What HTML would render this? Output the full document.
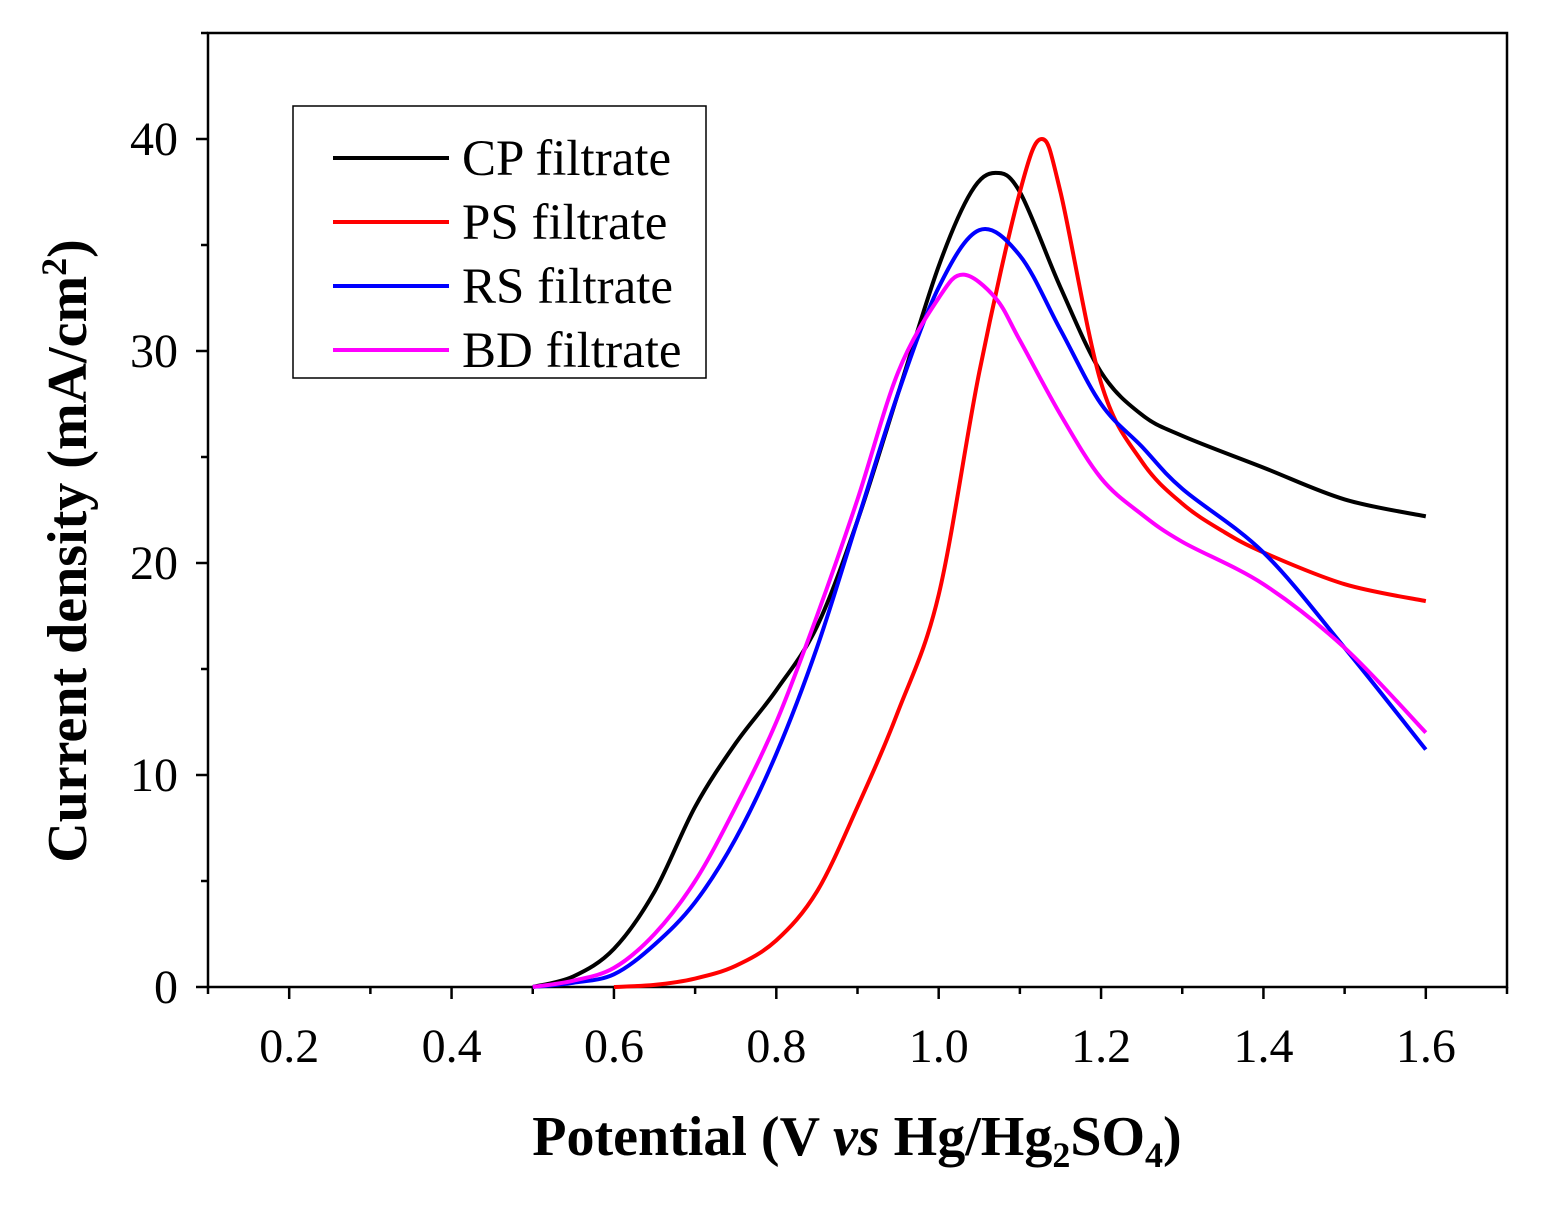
<!DOCTYPE html>
<html><head><meta charset="utf-8"><style>
body{margin:0;background:#fff}
svg text{font-family:"Liberation Serif",serif}
</style></head><body>
<svg id="c" width="1546" height="1203" xmlns="http://www.w3.org/2000/svg"></svg>
<script>
const xTicks=[0.2,0.4,0.6,0.8,1.0,1.2,1.4,1.6];
const yTicks=[0,10,20,30,40];
const seriesNames=["CP filtrate","PS filtrate","RS filtrate","BD filtrate"];
const seriesColors=["#000000","#ff0000","#0000ff","#ff00ff"];
const cpX=[0.5,0.55,0.6,0.65,0.7,0.75,0.8,0.85,0.9,0.95,1.0,1.04,1.07,1.1,1.15,1.2,1.25,1.3,1.4,1.5,1.6];
const cpY=[0,0.5,1.8,4.5,8.5,11.5,14,17,22,28,34,37.5,38.4,37.5,33,29,27,26,24.5,23,22.2];
const psX=[0.6,0.65,0.7,0.75,0.8,0.85,0.9,0.95,1.0,1.05,1.1,1.127,1.15,1.2,1.25,1.3,1.35,1.4,1.5,1.6];
const psY=[0,0.1,0.4,1,2.2,4.5,8.5,13,18.5,29,37.5,40,37.5,28.5,24.8,22.8,21.5,20.5,19,18.2];
const rsX=[0.5,0.55,0.6,0.65,0.7,0.75,0.8,0.85,0.9,0.95,1.0,1.05,1.1,1.15,1.2,1.25,1.3,1.4,1.5,1.6];
const rsY=[0,0.2,0.6,2,4,7,11,16,22,28,33,35.7,34.5,31,27.5,25.5,23.5,20.5,16,11.2];
const bdX=[0.5,0.55,0.6,0.65,0.7,0.75,0.8,0.85,0.9,0.95,1.0,1.03,1.07,1.1,1.15,1.2,1.25,1.3,1.4,1.5,1.6];
const bdY=[0,0.3,0.9,2.5,5,8.5,12.5,17.5,23,29,32.5,33.6,32.5,30.5,27,24,22.3,21,19,16,12];

const L=208,R=1507,T=33,B=987,x0=0.1,x1=1.7,y0=0,y1=45;
const sx=v=>L+(v-x0)/(x1-x0)*(R-L);
const sy=v=>B-(v-y0)/(y1-y0)*(B-T);
const svg=document.getElementById('c');
const NS="http://www.w3.org/2000/svg";
function mk(t,a,p){const e=document.createElementNS(NS,t);for(const k in a)e.setAttribute(k,a[k]);(p||svg).appendChild(e);return e;}

const frame=mk('rect',{x:L,y:T,width:R-L,height:B-T,fill:'none',stroke:'#000','stroke-width':2.5});



for(let i=1;i<=17;i++){
  const v=i/10;
  const major=i%2===0;
  const l=mk('line',{x1:sx(v),x2:sx(v),y1:B,y2:B+(major?12:7),stroke:'#000','stroke-width':2.5});
  
  
}
xTicks.forEach(v=>{
  const t=mk('text',{x:sx(v),y:1062,'font-size':48,'text-anchor':'middle'});
  t.textContent=v.toFixed(1);
  
  
});
for(let v=0;v<=45;v+=5){
  const major=v%10===0;
  const l=mk('line',{x1:L,x2:L-(major?12:7),y1:sy(v),y2:sy(v),stroke:'#000','stroke-width':2.5});
  
  
}
yTicks.forEach(v=>{
  const t=mk('text',{x:178,y:sy(v)+16,'font-size':48,'text-anchor':'end'});
  t.textContent=v;
  
  
});

function pathD(xs,ys){
  const p=xs.map((x,i)=>[sx(x),sy(ys[i])]);
  let d='M'+p[0][0]+','+p[0][1];
  for(let i=0;i<p.length-1;i++){
    const a=p[i-1]||p[i],b=p[i],c=p[i+1],e=p[i+2]||c;
    d+=' C'+(b[0]+(c[0]-a[0])/6)+','+(b[1]+(c[1]-a[1])/6)+' '+(c[0]-(e[0]-b[0])/6)+','+(c[1]-(e[1]-b[1])/6)+' '+c[0]+','+c[1];
  }
  return d;
}
const allX=[cpX,psX,rsX,bdX],allY=[cpY,psY,rsY,bdY];
const names=['cp-curve','ps-curve','rs-curve','bd-curve'];
allX.forEach((xs,i)=>{
  const p=mk('path',{d:pathD(xs,allY[i]),fill:'none',stroke:seriesColors[i],'stroke-width':4,'stroke-linejoin':'round'});
  
  
});

const lg=mk('g',{});


mk('rect',{x:293,y:106,width:413,height:272,fill:'#fff',stroke:'#000','stroke-width':1.5},lg);
seriesNames.forEach((n,i)=>{
  const y=158+i*64;
  const g=mk('g',{},lg);
  
  
  mk('line',{x1:333,x2:449,y1:y,y2:y,stroke:seriesColors[i],'stroke-width':4},g);
  const t=mk('text',{x:462,y:y+17,'font-size':51},g);
  t.textContent=n;
});

const xt=mk('text',{x:857,y:1155,'font-size':56,'font-weight':'bold','text-anchor':'middle'});


xt.innerHTML='Potential (V <tspan font-style="italic">vs</tspan> Hg/Hg<tspan font-size="36" dy="12">2</tspan><tspan dy="-12">SO</tspan><tspan font-size="36" dy="12">4</tspan><tspan dy="-12">)</tspan>';
const yt=mk('text',{x:0,y:0,'font-size':56,'font-weight':'bold','text-anchor':'middle',transform:'translate(86,551) rotate(-90)'});


yt.innerHTML='Current density (mA/cm<tspan font-size="36" dy="-20">2</tspan><tspan dy="20">)</tspan>';
</script>
</body></html>
